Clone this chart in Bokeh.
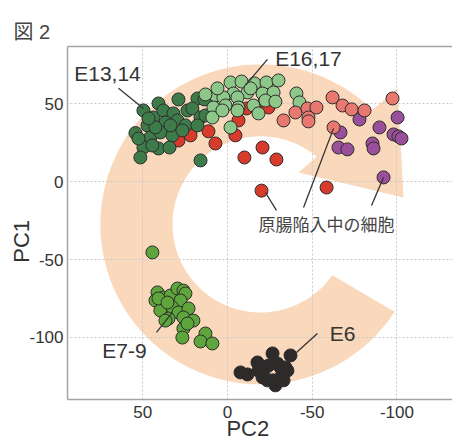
import numpy as np
from bokeh.plotting import figure
from bokeh.models import Range1d, LinearAxis, FixedTicker, Label, Title
from bokeh.embed import file_html
from bokeh.resources import INLINE

# ---------------- data (PC2, PC1) ----------------
e6_pc2 = [-7.7, -11.8, -17.7, -26.6, -37.2, -21.3, -24.2, -29.5, -20.7, -26.6,
          -31.3, -35.4, -33.1, -28.3, -31.3, -23.6, -18.3, -34.2]
e6_pc1 = [-122.5, -123.8, -116.1, -110.3, -111.6, -121.3, -118.1, -116.8, -125.7, -127.6,
          -125.7, -121.3, -127.6, -130.8, -119.3, -127.6, -121.3, -119.3]

e79_pc2 = [44.3, 41.3, 42.5, 37.8, 39.6, 33.6, 29.5, 26.0, 24.8, 27.7, 32.5, 28.9, 23.0,
           34.8, 26.0, 20.1, 26.0, 26.6, 13.0, 15.9, 8.9, 36.6, 23.6, 40.7, 35.4]
e79_pc1 = [-45.4, -71.1, -76.3, -74.4, -82.7, -73.1, -68.6, -69.9, -71.8, -76.3, -80.8, -84.0, -81.4,
           -87.9, -87.2, -89.2, -94.3, -100.1, -97.5, -102.6, -103.9, -89.2, -91.1, -75.0, -77.6]

gast_pc2 = [28.9, 21.8, 11.2, 7.1, -4.7, -6.5, -11.2, -20.7, -24.2, -20.7, -10.0, -28.9, -20.1, -58.5]
gast_pc1 = [26.5, 29.8, 32.4, 24.6, 29.8, 39.4, 47.1, 49.7, 47.7, 22.0, 15.6, 14.3, -5.7, -3.7]

e1314_pc2 = [49.6, 40.7, 28.9, 17.7, 13.6, 43.7, 37.8, 31.9, 23.6, 20.7, 47.2, 36.6, 29.5, 15.9,
             13.0, 54.3, 45.5, 39.6, 32.5, 24.8, 17.7, 49.6, 40.7, 34.2, 51.4, 15.9, 52.5, 42.5,
             26.6, 44.3, 33.6, 46.6]
e1314_pc1 = [45.8, 50.3, 52.9, 53.5, 52.9, 41.3, 45.8, 43.9, 45.8, 47.1, 36.2, 38.1, 39.4, 41.3,
             42.6, 31.3, 28.5, 31.7, 29.8, 36.2, 36.2, 22.0, 21.4, 22.0, 15.6, 13.7, 27.8, 34.9,
             33.0, 23.3, 36.2, 40.7]

e1617_pc2 = [-1.8, -8.3, -15.9, -23.0, -30.1, -3.5, -11.8, -20.7, -27.2, 7.1, 13.0, 2.4, -5.9,
             -22.4, -28.3, 8.3, 1.2, -6.5, -15.3, 8.9, 3.0, -5.9, -18.3, -1.8, -40.7, -42.5,
             -13.6, 5.9]
e1617_pc1 = [63.8, 64.4, 63.2, 63.8, 65.1, 56.7, 57.4, 56.7, 57.4, 55.5, 56.1, 54.2, 54.2,
             52.2, 51.5, 47.7, 49.0, 47.7, 49.0, 41.3, 45.8, 45.8, 43.9, 34.9, 56.7, 51.0,
             60.0, 60.0]

salmon_pc2 = [-33.1, -40.1, -47.2, -52.5, -47.8, -47.8, -62.0, -67.9, -73.3, -80.9, -97.4, -62.6]
salmon_pc1 = [39.4, 44.5, 47.1, 47.7, 41.3, 38.8, 54.2, 49.0, 46.5, 45.8, 53.5, 34.9]

purple_pc2 = [-77.9, -66.7, -65.5, -70.8, -89.7, -85.6, -86.2, -100.4, -98.0, -100.9, -102.7, -92.1]
purple_pc1 = [40.0, 31.7, 22.0, 20.8, 34.9, 24.6, 21.4, 41.3, 30.4, 29.1, 27.8, 2.8]

tick_values = [50, 0, -50, -100]
tick_labels = ["50", "0", "-50", "-100"]

# ---------------- figure ----------------
NB = "\u00a0"
p = figure(width=452, height=444, output_backend="svg", toolbar_location=None,
           x_range=Range1d(94.4, -132.8), y_range=Range1d(-139.9, 86.9),
           min_border_left=67, min_border_right=0, min_border_top=46, min_border_bottom=45,
           x_axis_label="PC2" + NB * 4, y_axis_label="PC1" + NB * 6)
p.outline_line_color = None
p.background_fill_color = "white"
p.border_fill_color = "white"

AX_COLOR = "#a3a3a3"
for ax in (p.xaxis[0], p.yaxis[0]):
    ax.ticker = FixedTicker(ticks=tick_values)
    ax.major_label_overrides = dict(zip(tick_values, tick_labels))
    ax.axis_line_color = AX_COLOR
    ax.axis_line_width = 1.5
    ax.major_tick_line_color = None
    ax.minor_tick_line_color = None
    ax.major_tick_out = 0
    ax.major_tick_in = 0
    ax.major_label_text_font = "Liberation Sans"
    ax.major_label_text_font_size = "17px"
    ax.major_label_text_color = "#333333"
    ax.axis_label_text_font = "Liberation Sans"
    ax.axis_label_text_font_size = "22px"
    ax.axis_label_text_font_style = "normal"
    ax.axis_label_text_color = "#333333"
p.yaxis[0].major_label_standoff = 4
p.yaxis[0].axis_label_standoff = -8
p.xaxis[0].major_label_standoff = 6
p.xaxis[0].axis_label_standoff = -5

top = LinearAxis(ticker=FixedTicker(ticks=[]), axis_line_color=AX_COLOR, axis_line_width=1.5,
                 major_tick_line_color=None, minor_tick_line_color=None,
                 major_tick_out=0, major_label_standoff=0, major_label_text_font_size="0px")
p.add_layout(top, "above")
p.add_layout(Title(text="図 2", align="left", offset=-54, standoff=8,
                   text_font="Liberation Sans, Noto Sans CJK JP", text_font_size="20px",
                   text_font_style="normal", text_color="#444444"), "above")

for g in (p.xgrid[0], p.ygrid[0]):
    g.ticker = FixedTicker(ticks=tick_values)
    g.grid_line_color = "#c9c9c9"
    g.grid_line_dash = "2 2"
    g.grid_line_width = 1

# ---------------- background arrow (decoration) ----------------
ARC_CX, ARC_CY = -19.5, -27.4
OUT_RX, OUT_RY = 94.5, 102.8
IN_RX, IN_RY = 51.9, 56.6
ta = np.radians(np.linspace(50.2, 324.7, 160))
tb = np.radians(np.linspace(326.9, 45.7, 160))
ax_x = list(ARC_CX - IN_RX * np.cos(ta)) + list(ARC_CX - OUT_RX * np.cos(tb)) + [-100.4, -103.9, -41.9]
ax_y = list(ARC_CY + IN_RY * np.sin(ta)) + list(ARC_CY + OUT_RY * np.sin(tb)) + [60.0, -10.1, 6.0]
p.patch(ax_x, ax_y, fill_color="#fad8bc", line_color=None, level="image")

# ---------------- points ----------------
S = 13
OUT = "#2e2e2e"
groups = [
    (e6_pc2, e6_pc1, "#2d2a29"),
    (e79_pc2, e79_pc1, "#5ea53c"),
    (gast_pc2, gast_pc1, "#d83a2b"),
    (e1314_pc2, e1314_pc1, "#3e7b4b"),
    (e1617_pc2, e1617_pc1, "#8dc88a"),
    (purple_pc2, purple_pc1, "#9a4f9a"),
    (salmon_pc2, salmon_pc1, "#e87870"),
]
for xs, ys, col in groups:
    p.scatter(xs, ys, size=S, fill_color=col, line_color=OUT, line_width=1)

# ---------------- leader lines ----------------
lead_x0 = [64.3, -23.6, 41.9, -53.1, -28.9, -44.9, -85.0]
lead_y0 = [60.0, 78.6, -96.8, -97.5, -18.4, -16.5, -15.2]
lead_x1 = [49.6, -10.6, 32.5, -40.7, -22.4, -62.6, -92.1]
lead_y1 = [47.1, 61.9, -83.9, -109.7, -6.9, 34.3, 2.8]
p.segment(lead_x0, lead_y0, lead_x1, lead_y1, line_color="#333333", line_width=1.3)

# ---------------- labels ----------------
def lab(x, y, text, size, font="Liberation Sans", color="#333333", align="center"):
    p.add_layout(Label(x=x, y=y, text=text, text_font=font, text_font_size=size,
                       text_color=color, text_align=align, text_baseline="middle"))

lab(70.8, 69.5, "E13,14", "21px")
lab(-47.8, 79.2, "E16,17", "21px")
lab(60.8, -108.5, "E7-9", "21px")
lab(-67.9, -97.5, "E6", "21px")
lab(-58.4, -26.8, "原腸陥入中の細胞", "17px", font="Noto Sans CJK JP", color="#444444")

open("out.html", "w").write(file_html(p, INLINE))
